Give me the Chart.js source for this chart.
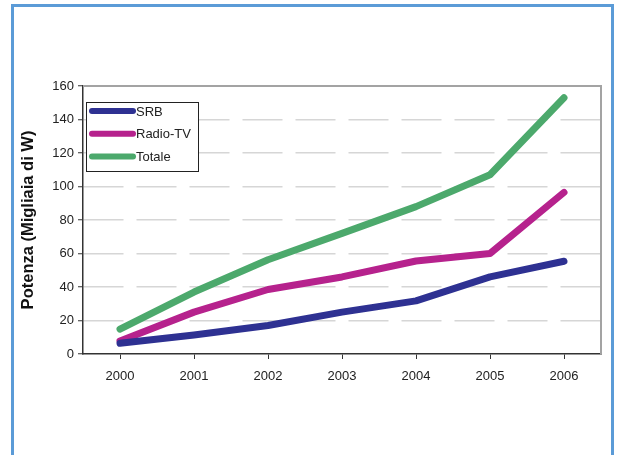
<!DOCTYPE html>
<html>
<head>
<meta charset="utf-8">
<script src="https://cdn.jsdelivr.net/npm/chart.js@4"></script>
<style>
  html, body { margin: 0; padding: 0; background: #fff; }
  #frame {
    position: absolute; left: 11px; top: 4px; width: 597px; height: 480px;
    border: 3px solid #5b9bd7;
  }
  #chart { position: absolute; left: 0; top: 0; }
</style>
</head>
<body>
<div id="frame"></div>
<canvas id="chart" width="617" height="455"></canvas>
<script>
// Anni e potenza installata (migliaia di W)
const years = ['2000', '2001', '2002', '2003', '2004', '2005', '2006'];
const srb = [6.4, 11.3, 17, 25, 31.7, 46, 55.4];
const radioTv = [7.8, 25, 38.5, 46, 55.5, 60, 96.5];
const totale = [14.8, 37, 56.3, 72, 88, 107, 153];
const seriesNames = ['SRB', 'Radio-TV', 'Totale'];
const seriesColors = ['#2e3192', '#b6228d', '#4ca96c'];

const FONT = 'Liberation Sans, Arial, sans-serif';
const TEXT = '#222';

// legend drawn inside the plot, framed box top-left
const boxLegend = {
    id: 'boxLegend',
    afterDraw(chart) {
        const ctx = chart.ctx;
        const x = 86.5, y = 102.5, w = 112, h = 69;
        ctx.save();
        ctx.fillStyle = '#fff';
        ctx.fillRect(x, y, w, h);
        ctx.strokeStyle = '#222';
        ctx.lineWidth = 1;
        ctx.strokeRect(x, y, w, h);
        ctx.font = '13px ' + FONT;
        ctx.textBaseline = 'middle';
        chart.data.datasets.forEach((ds, i) => {
            const ly = 111 + i * 22.8;
            ctx.strokeStyle = ds.borderColor;
            ctx.lineWidth = 6;
            ctx.lineCap = 'round';
            ctx.beginPath();
            ctx.moveTo(92, ly);
            ctx.lineTo(133, ly);
            ctx.stroke();
            ctx.fillStyle = TEXT;
            ctx.fillText(ds.label, 136, ly + 1);
        });
        ctx.restore();
    }
};

// gray top and right edges of the plot area
const plotFrame = {
    id: 'plotFrame',
    beforeDatasetsDraw(chart) {
        const { ctx, chartArea: a } = chart;
        ctx.save();
        ctx.strokeStyle = '#a3a3a3';
        ctx.lineWidth = 2;
        ctx.beginPath();
        ctx.moveTo(a.left, a.top);
        ctx.lineTo(a.right, a.top);
        ctx.lineTo(a.right, a.bottom);
        ctx.stroke();
        ctx.restore();
    }
};

const values = [srb, radioTv, totale];

new Chart(document.getElementById('chart'), {
    type: 'line',
    data: {
        labels: years,
        datasets: values.map((v, i) => ({
            label: seriesNames[i],
            data: v,
            borderColor: seriesColors[i],
            backgroundColor: seriesColors[i],
            borderWidth: 7,
            borderCapStyle: 'round',
            borderJoinStyle: 'round',
            pointRadius: 0,
            tension: 0
        }))
    },
    options: {
        responsive: false,
        animation: false,
        layout: { padding: { left: 0, top: 86, right: 16, bottom: 61 } },
        plugins: { legend: { display: false }, tooltip: { enabled: false } },
        scales: {
            x: {
                offset: true,
                grid: {
                    drawOnChartArea: false,
                    drawTicks: true,
                    tickLength: 5,
                    tickColor: '#333',
                    tickWidth: 1
                },
                border: { color: '#333', width: 1.5 },
                ticks: { color: TEXT, font: { family: FONT, size: 13 }, padding: 10, maxRotation: 0 },
                afterFit(scale) { scale.height = 40; }
            },
            y: {
                min: 0,
                max: 160,
                ticks: { stepSize: 20, color: TEXT, font: { family: FONT, size: 13 }, padding: 4 },
                grid: {
                    color: ctx => (ctx.tick && (ctx.tick.value === 0 || ctx.tick.value === 160)) ? 'rgba(0,0,0,0)' : '#d6d6d6',
                    lineWidth: 1.5,
                    drawTicks: true,
                    tickLength: 5,
                    tickColor: '#333',
                    tickWidth: 1
                },
                border: { color: '#333', width: 1.5, dash: [40, 13] },
                title: {
                    display: true,
                    text: 'Potenza (Migliaia di W)',
                    color: '#111',
                    font: { family: FONT, size: 16.5, weight: 'bold' },
                    padding: { top: 19, bottom: 0 }
                },
                afterFit(scale) { scale.width = 83; }
            }
        }
    },
    plugins: [plotFrame, boxLegend]
});
</script>
</body>
</html>
